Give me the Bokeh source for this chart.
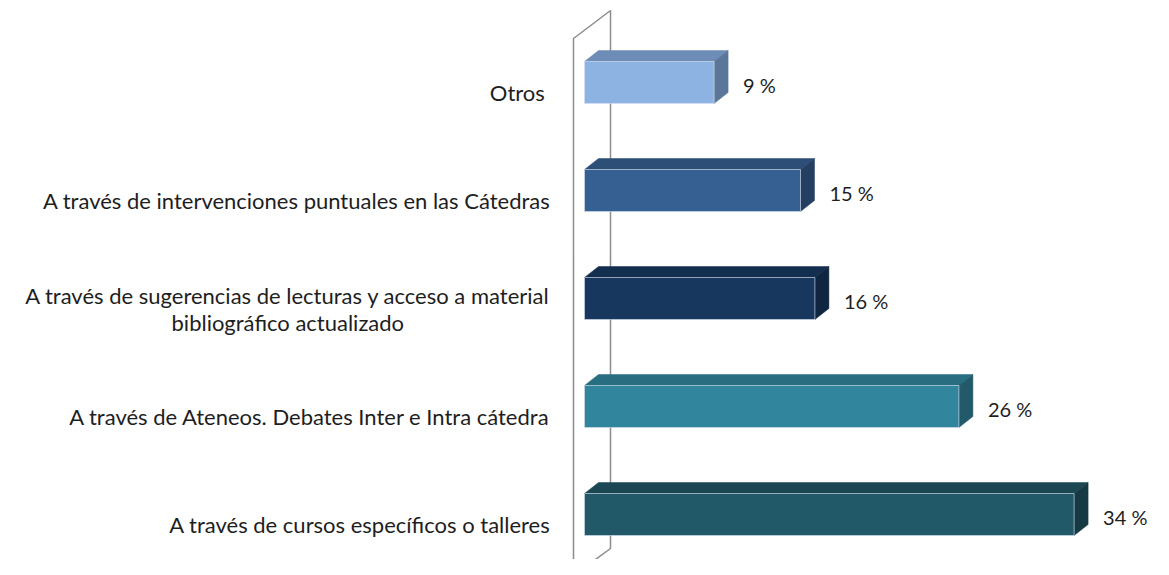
from bokeh.plotting import figure
from bokeh.models import ColumnDataSource, Range1d
from bokeh.core.properties import value
from bokeh.embed import file_html
from bokeh.resources import INLINE

# ---- data ----
categories = [
    "A través de cursos específicos o talleres",
    "A través de Ateneos. Debates Inter e Intra cátedra",
    "A través de sugerencias de lecturas y acceso a material\nbibliográfico actualizado",
    "A través de intervenciones puntuales en las Cátedras",
    "Otros ",
]
values = [34, 26, 16, 15, 9]
value_labels = ["34  %", "26  %", "16 %", "15 %", "9 %"]
front_colors = ["#215968", "#31859C", "#17375E", "#376092", "#8DB3E2"]
top_colors = ["#1A4753", "#286D80", "#132E4F", "#2D4E77", "#6E8DB6"]
side_colors = ["#163A44", "#225A69", "#0F2540", "#243F60", "#5A7699"]

# ---- layout constants ----
W, H = 1153, 559
PX = 14.4      # pixels per percent
YU = 108.0     # pixels per category
X0PX = 584     # pixel of value 0
Y0PX = H - 514 # pixel (from bottom) of first category
BH = 42 / YU
DX = 14 / PX
DY = 11 / YU

def ypx(fy):
    return (H - fy - Y0PX) / YU

def xpx(fx):
    return (fx - X0PX) / PX

p = figure(width=W, height=H,
           x_range=Range1d(xpx(0), xpx(W)),
           y_range=Range1d(ypx(H), ypx(0)),
           x_axis_type=None, y_axis_type=None,
           output_backend="svg", toolbar_location=None,
           min_border=0)
p.grid.visible = False
p.outline_line_color = None
p.background_fill_color = "white"
p.border_fill_color = "white"

# wall
xf, xb = xpx(573), xpx(610)
p.line(x=[xf, xf, xb, xb, xf], y=[ypx(575), ypx(38), ypx(10), ypx(548), ypx(575)],
       line_color="#8C8C8C", line_width=1.5)

idx = list(range(len(values)))
tops = [i + BH / 2 for i in idx]
bots = [i - BH / 2 for i in idx]

top_xs = [[0, v, v + DX, DX] for v in values]
top_ys = [[t, t, t + DY, t + DY] for t in tops]
side_xs = [[v, v + DX, v + DX, v] for v in values]
side_ys = [[b, b + DY, t + DY, t] for b, t in zip(bots, tops)]

p.patches(xs=top_xs, ys=top_ys, fill_color=top_colors, line_color=top_colors, line_width=0.5)
p.patches(xs=side_xs, ys=side_ys, fill_color=side_colors, line_color=side_colors, line_width=0.5)

src = ColumnDataSource(dict(y=idx, right=values, color=front_colors,
                            cat=categories, lab=value_labels,
                            ly=[i - 10 / YU for i in idx],
                            vx=[v + 29 / PX for v in values],
                            vy=[i - 2 / YU for i in idx]))
p.hbar(y="y", left=0, right="right", height=BH, fill_color="color",
       line_color="#D5E0EC", line_alpha=0.6, line_width=1, source=src)

p.text(x=xpx(550), y="ly", text="cat", source=src,
       text_align="center", anchor=value("center_right"),
       text_font=value("Lato"), text_font_size="22px", text_color="#1E1E1E",
       text_line_height=1.0)

p.text(x="vx", y="vy", text="lab", source=src,
       text_align="left", text_baseline="middle",
       text_font=value("Lato"), text_font_size="20px", text_color="#1E1E1E")

open("out.html", "w").write(file_html(p, INLINE))
